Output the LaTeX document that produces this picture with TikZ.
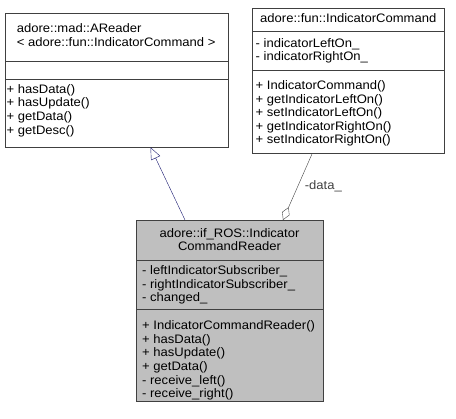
\documentclass[tikz,border=0pt]{standalone}
\usepackage{fontspec}
\setmainfont[FakeStretch=1.06]{Liberation Sans}
\usepackage{tikz}
\usetikzlibrary{arrows.meta}
\definecolor{edgeblue}{HTML}{191970}
\definecolor{edgegray}{HTML}{404040}
\definecolor{boxgray}{HTML}{BFBFBF}

\begin{document}
\begin{tikzpicture}
[x=1pt,y=-1pt,every node/.style={font=\fontsize{12.3}{13.6}\selectfont},
 cls/.style={draw=edgegray,fill=white,anchor=north west,inner sep=0,outer sep=0},
 txt/.style={anchor=west,inner sep=0,align=left}]
\useasboundingbox (0,0) rectangle (456,419);
% class boxes
\node[cls,minimum width=223pt,minimum height=134pt] (reader) at (5,13.3) {};
\node[cls,minimum width=192pt,minimum height=145pt] (cmd) at (252.3,8.3) {};
\node[cls,fill=boxgray,minimum width=187pt,minimum height=181.7pt] (ctrl) at (136,220) {};
% compartments
\draw[edgegray] ([yshift=-48.4pt]reader.north west) -- ([yshift=-48.4pt]reader.north east);
\draw[edgegray] ([yshift=-65.7pt]reader.north west) -- ([yshift=-65.7pt]reader.north east);
\draw[edgegray] ([yshift=-23.4pt]cmd.north west) -- ([yshift=-23.4pt]cmd.north east);
\draw[edgegray] ([yshift=-62.4pt]cmd.north west) -- ([yshift=-62.4pt]cmd.north east);
\draw[edgegray] ([yshift=-40.7pt]ctrl.north west) -- ([yshift=-40.7pt]ctrl.north east);
\draw[edgegray] ([yshift=-89.3pt]ctrl.north west) -- ([yshift=-89.3pt]ctrl.north east);
% texts
\node[txt] (reader-t) at (16.7,35) {adore::mad::AReader\\< adore::fun::IndicatorCommand >};
\node[txt] (reader-m) at (6.5,110.5) {+ hasData()\\+ hasUpdate()\\+ getData()\\+ getDesc()};
\node[inner sep=0] (cmd-t) at (348.3,18) {adore::fun::IndicatorCommand};
\node[txt] (cmd-a) at (255.5,51) {- indicatorLeftOn\_\\- indicatorRightOn\_};
\node[txt] (cmd-m) at (255.5,113.5) {+ IndicatorCommand()\\+ getIndicatorLeftOn()\\+ setIndicatorLeftOn()\\+ getIndicatorRightOn()\\+ setIndicatorRightOn()};
\node[inner sep=0,align=center] (ctrl-t) at (229.5,239.5) {adore::if\_ROS::Indicator\\CommandReader};
\node[txt] (ctrl-a) at (142,285) {- leftIndicatorSubscriber\_\\- rightIndicatorSubscriber\_\\- changed\_};
\node[txt] (ctrl-m) at (142,360.5) {+ IndicatorCommandReader()\\+ hasData()\\+ hasUpdate()\\+ getData()\\- receive\_left()\\- receive\_right()};
% relations
\draw[edgeblue,-{Triangle[open,length=12pt,width=10pt]}] ([xshift=-44.5pt]ctrl.north) -- ([xshift=34pt]reader.south);
\draw[edgegray,{Diamond[open,length=14pt,width=8pt]}-] ([xshift=53.5pt]ctrl.north) -- ([xshift=-36pt]cmd.south)
  node[pos=0.5,anchor=west,inner sep=0,xshift=7pt] (data-l) {-data\_};
\end{tikzpicture}
\end{document}
